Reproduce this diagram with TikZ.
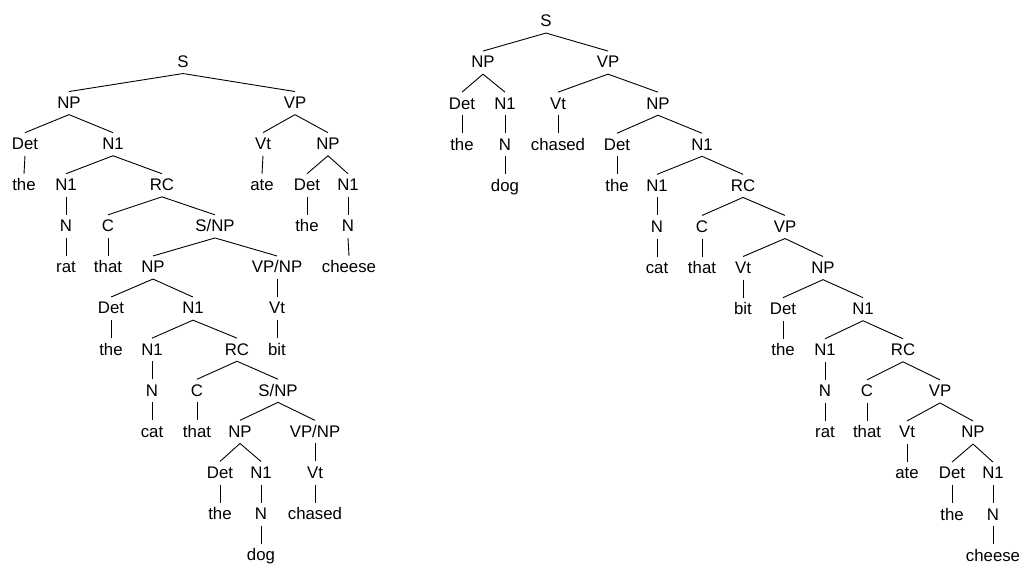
\documentclass[tikz,border=0pt]{standalone}
\usepackage{fontspec}
\setmainfont{Liberation Sans}
\begin{document}
\begin{tikzpicture}[x=1pt, y=-1pt,
  w/.style={font=\fontsize{16.8}{16.8}\selectfont, text height=11.7pt, text depth=1pt,
            inner xsep=0pt, inner ysep=5pt},
  br/.style={line width=0.9pt}]
\useasboundingbox (0,0) rectangle (1025,565);

% ---- left tree: "the rat that the cat that the dog chased bit ate the cheese"
\node[w] (l0a) at (183,62) {S};
\node[w] (l1a) at (69,103.1) {NP};
\node[w] (l1b) at (295,103.1) {VP};
\node[w] (l2a) at (25,144.2) {Det};
\node[w] (l2b) at (113,144.2) {N1};
\node[w] (l2c) at (263,144.2) {Vt};
\node[w] (l2d) at (328,144.2) {NP};
\node[w] (l3a) at (24,185.3) {the};
\node[w] (l3b) at (66,185.3) {N1};
\node[w] (l3c) at (162,185.3) {RC};
\node[w] (l3d) at (262,185.3) {ate};
\node[w] (l3e) at (307,185.3) {Det};
\node[w] (l3f) at (348,185.3) {N1};
\node[w] (l4a) at (66,226.4) {N};
\node[w] (l4b) at (108,226.4) {C};
\node[w] (l4c) at (215,226.4) {S/NP};
\node[w] (l4d) at (307,226.4) {the};
\node[w] (l4e) at (348,226.4) {N};
\node[w] (l5a) at (66,267.5) {rat};
\node[w] (l5b) at (108,267.5) {that};
\node[w] (l5c) at (153,267.5) {NP};
\node[w] (l5d) at (277,267.5) {VP/NP};
\node[w] (l5e) at (349,267.5) {cheese};
\node[w] (l6a) at (111,308.6) {Det};
\node[w] (l6b) at (193,308.6) {N1};
\node[w] (l6c) at (277,308.6) {Vt};
\node[w] (l7a) at (111,349.7) {the};
\node[w] (l7b) at (152,349.7) {N1};
\node[w] (l7c) at (237,349.7) {RC};
\node[w] (l7d) at (277,349.7) {bit};
\node[w] (l8a) at (152,390.8) {N};
\node[w] (l8b) at (197,390.8) {C};
\node[w] (l8c) at (278,390.8) {S/NP};
\node[w] (l9a) at (152,431.9) {cat};
\node[w] (l9b) at (197,431.9) {that};
\node[w] (l9c) at (240,431.9) {NP};
\node[w] (l9d) at (315,431.9) {VP/NP};
\node[w] (l10a) at (220,473) {Det};
\node[w] (l10b) at (261,473) {N1};
\node[w] (l10c) at (315,473) {Vt};
\node[w] (l11a) at (220,514.1) {the};
\node[w] (l11b) at (261,514.1) {N};
\node[w] (l11c) at (315,514.1) {chased};
\node[w] (l12a) at (261,555.2) {dog};

\foreach \p/\c in {l0a/l1a, l0a/l1b, l1a/l2a, l1a/l2b, l1b/l2c, l1b/l2d,
  l2a/l3a, l2b/l3b, l2b/l3c, l2c/l3d, l2d/l3e, l2d/l3f,
  l3b/l4a, l3c/l4b, l3c/l4c, l3e/l4d, l3f/l4e,
  l4a/l5a, l4b/l5b, l4c/l5c, l4c/l5d, l4e/l5e,
  l5c/l6a, l5c/l6b, l5d/l6c,
  l6a/l7a, l6b/l7b, l6b/l7c, l6c/l7d,
  l7b/l8a, l7c/l8b, l7c/l8c,
  l8a/l9a, l8b/l9b, l8c/l9c, l8c/l9d,
  l9c/l10a, l9c/l10b, l9d/l10c,
  l10a/l11a, l10b/l11b, l10c/l11c, l11b/l12a}
  \draw[br] (\p.south) -- (\c.north);

% ---- right tree: "the dog chased the cat that bit the rat that ate the cheese"
\node[w] (r0a) at (546,21.5) {S};
\node[w] (r1a) at (483,62.6) {NP};
\node[w] (r1b) at (608,62.6) {VP};
\node[w] (r2a) at (462,103.7) {Det};
\node[w] (r2b) at (505,103.7) {N1};
\node[w] (r2c) at (558,103.7) {Vt};
\node[w] (r2d) at (658,103.7) {NP};
\node[w] (r3a) at (462,144.8) {the};
\node[w] (r3b) at (505,144.8) {N};
\node[w] (r3c) at (558,144.8) {chased};
\node[w] (r3d) at (617,144.8) {Det};
\node[w] (r3e) at (702,144.8) {N1};
\node[w] (r4a) at (505,185.9) {dog};
\node[w] (r4b) at (617,185.9) {the};
\node[w] (r4c) at (657,185.9) {N1};
\node[w] (r4d) at (743,185.9) {RC};
\node[w] (r5a) at (657,227) {N};
\node[w] (r5b) at (702,227) {C};
\node[w] (r5c) at (785,227) {VP};
\node[w] (r6a) at (657,268.1) {cat};
\node[w] (r6b) at (702,268.1) {that};
\node[w] (r6c) at (743,268.1) {Vt};
\node[w] (r6d) at (823,268.1) {NP};
\node[w] (r7a) at (743,309.2) {bit};
\node[w] (r7b) at (783,309.2) {Det};
\node[w] (r7c) at (863,309.2) {N1};
\node[w] (r8a) at (783,350.3) {the};
\node[w] (r8b) at (825,350.3) {N1};
\node[w] (r8c) at (903,350.3) {RC};
\node[w] (r9a) at (825,391.4) {N};
\node[w] (r9b) at (867,391.4) {C};
\node[w] (r9c) at (940,391.4) {VP};
\node[w] (r10a) at (825,432.5) {rat};
\node[w] (r10b) at (867,432.5) {that};
\node[w] (r10c) at (907,432.5) {Vt};
\node[w] (r10d) at (973,432.5) {NP};
\node[w] (r11a) at (907,473.6) {ate};
\node[w] (r11b) at (952,473.6) {Det};
\node[w] (r11c) at (993,473.6) {N1};
\node[w] (r12a) at (952,514.7) {the};
\node[w] (r12b) at (993,514.7) {N};
\node[w] (r13a) at (993,555.8) {cheese};

\foreach \p/\c in {r0a/r1a, r0a/r1b, r1a/r2a, r1a/r2b, r1b/r2c, r1b/r2d,
  r2a/r3a, r2b/r3b, r2c/r3c, r2d/r3d, r2d/r3e,
  r3b/r4a, r3d/r4b, r3e/r4c, r3e/r4d,
  r4c/r5a, r4d/r5b, r4d/r5c,
  r5a/r6a, r5b/r6b, r5c/r6c, r5c/r6d,
  r6c/r7a, r6d/r7b, r6d/r7c,
  r7b/r8a, r7c/r8b, r7c/r8c,
  r8b/r9a, r8c/r9b, r8c/r9c,
  r9a/r10a, r9b/r10b, r9c/r10c, r9c/r10d,
  r10c/r11a, r10d/r11b, r10d/r11c,
  r11b/r12a, r11c/r12b, r12b/r13a}
  \draw[br] (\p.south) -- (\c.north);
\end{tikzpicture}
\end{document}
